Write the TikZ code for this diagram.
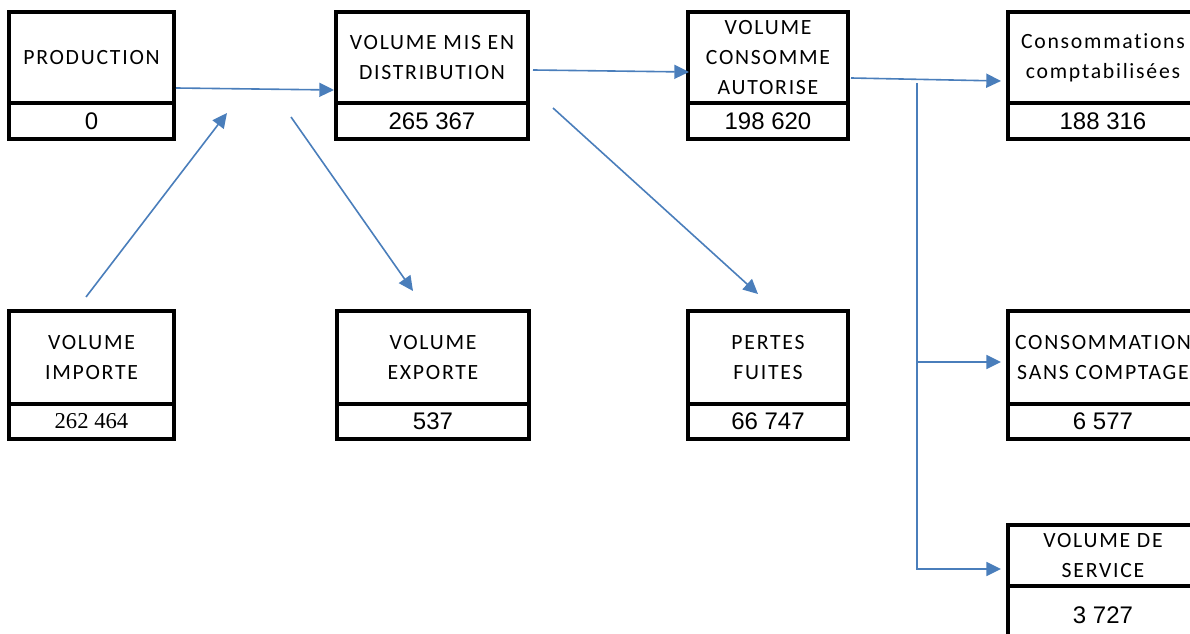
\documentclass[tikz,border=0pt]{standalone}
\usepackage{fontspec}
\setmainfont{Carlito}[LetterSpace=8, Ligatures={NoCommon}]
\newfontfamily\numfont{Liberation Sans}
\newfontfamily\serfont{Liberation Serif}
\usetikzlibrary{arrows.meta}
\definecolor{flowblue}{RGB}{74,126,187}

\begin{document}
\begin{tikzpicture}[x=0.75pt,y=-0.75pt]
  \tikzstyle{head} = [rectangle, draw=black, line width=2.4pt, inner sep=0pt, align=center, font=\fontsize{16.3}{22.5}\selectfont]
  \tikzstyle{value} = [rectangle, draw=black, line width=2.4pt, inner sep=0pt, font=\numfont\fontsize{18}{20}\selectfont]
  \tikzstyle{flow} = [line width=1.2pt, draw=flowblue, -{Triangle[length=11pt,width=10.5pt]}]

  \clip (0,0) rectangle (1190,634);

  % top row
  \node (prod) [head, minimum width=123.75pt, minimum height=68.25pt] at (91.5,57.5) {PRODUCTION};
  \node (prodv) [value, minimum width=123.75pt, minimum height=27pt] at (91.5,121) {0};
  \node (mis) [head, minimum width=144pt, minimum height=68.25pt] at (432,57.5) {VOLUME MIS EN\\DISTRIBUTION};
  \node (misv) [value, minimum width=144pt, minimum height=27pt] at (432,121) {265 367};
  \node (auto) [head, minimum width=120pt, minimum height=68.25pt] at (768,57.5) {VOLUME\\CONSOMME\\AUTORISE};
  \node (autov) [value, minimum width=120pt, minimum height=27pt] at (768,121) {198 620};
  \node (compta) [head, minimum width=142.5pt, minimum height=68.25pt] at (1103,57.5) {Consommations\\comptabilisées};
  \node (comptav) [value, minimum width=142.5pt, minimum height=27pt] at (1103,121) {188 316};

  % bottom row
  \node (imp) [head, minimum width=123.75pt, minimum height=69.75pt] at (91.5,357.5) {VOLUME\\IMPORTE};
  \node (impv) [value, minimum width=123.75pt, minimum height=26.25pt, font=\serfont\fontsize{17}{20}\selectfont] at (91.5,421.5) {262 464};
  \node (exp) [head, minimum width=144pt, minimum height=69.75pt] at (433,357.5) {VOLUME\\EXPORTE};
  \node (expv) [value, minimum width=144pt, minimum height=26.25pt] at (433,421.5) {537};
  \node (pert) [head, minimum width=120pt, minimum height=69.75pt] at (768,357.5) {PERTES\\FUITES};
  \node (pertv) [value, minimum width=120pt, minimum height=26.25pt] at (768,421.5) {66 747};
  \node (ssc) [head, minimum width=142.5pt, minimum height=69.75pt] at (1103,357.5) {CONSOMMATION\\SANS COMPTAGE};
  \node (sscv) [value, minimum width=142.5pt, minimum height=26.25pt] at (1103,421.5) {6 577};
  \node (serv) [head, minimum width=142.5pt, minimum height=45.75pt] at (1103,555.5) {VOLUME DE\\SERVICE};
  \node (servv) [value, minimum width=142.5pt, minimum height=44.25pt] at (1103,615.5) {3 727};

  % free ends of the arrows
  \coordinate (prodout) at (176,88);
  \coordinate (misin) at (334,90);
  \coordinate (impout) at (86,297);
  \coordinate (joinin) at (227,113);
  \coordinate (expfrom) at (291,117);
  \coordinate (expin) at (413,291);
  \coordinate (misout) at (533,70);
  \coordinate (autoin) at (689,72);
  \coordinate (pertfrom) at (553,108);
  \coordinate (pertin) at (758,294);
  \coordinate (autoout) at (851,78);
  \coordinate (comptain) at (1001,81);
  \coordinate (split) at (917,83);
  \coordinate (sscin) at (1001,362);
  \coordinate (servin) at (1001,569);

  \draw [flow] (prodout) -- (misin);
  \draw [flow] (impout) -- (joinin);
  \draw [flow] (expfrom) -- (expin);
  \draw [flow] (misout) -- (autoin);
  \draw [flow] (pertfrom) -- (pertin);
  \draw [flow] (autoout) -- (comptain);
  \draw [flow] (split) |- (servin);
  \draw [flow] (split |- sscin) -- (sscin);
\end{tikzpicture}
\end{document}
